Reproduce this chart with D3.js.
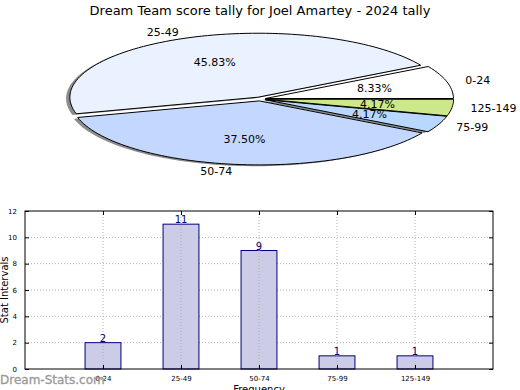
<!DOCTYPE html>
<html><head><meta charset="utf-8">
<script src="https://cdn.jsdelivr.net/npm/d3@7"></script>
<style>body{margin:0;background:#fff}svg{display:block}text{font-family:"DejaVu Sans",sans-serif}</style>
</head><body>
<script>
const title = "Dream Team score tally for Joel Amartey - 2024 tally";
const categories = ["0-24", "25-49", "50-74", "75-99", "125-149"];
const counts = [2, 11, 9, 1, 1];
const yTicks = [0, 2, 4, 6, 8, 10, 12];
const sliceColors = ["#ffffff", "#eaf1ff", "#c4d8ff", "#b8d8ff", "#cde88a"];

const W = 520, H = 390;
const svg = d3.select("body").append("svg").attr("width", W).attr("height", H);

svg.append("text").attr("x", 260).attr("y", 15).attr("text-anchor", "middle")
  .attr("font-size", 13).attr("fill", "#000").text(title);

// ---------- Pie (matplotlib-like, elliptical) ----------
const cx = 260, cy = 99, rx = 188, ry = 64, explode = 0.03;
const total = d3.sum(counts);
let acc = 0;
const slices = counts.map((v, i) => {
  const a0 = acc / total * 360; acc += v; const a1 = acc / total * 360;
  return {i, v, a0, a1, mid: (a0 + a1) / 2};
});
const rad = d => d * Math.PI / 180;
function slicePath(s, ox, oy) {
  const n = Math.max(8, Math.ceil((s.a1 - s.a0) / 2));
  const pts = [[ox, oy]];
  for (let k = 0; k <= n; k++) {
    const a = rad(s.a0 + (s.a1 - s.a0) * k / n);
    pts.push([ox + rx * Math.cos(a), oy - ry * Math.sin(a)]);
  }
  return d3.line()(pts) + "Z";
}
const pieG = svg.append("g");
const shadowG = pieG.append("g");
const sliceG = pieG.append("g");
slices.forEach(s => {
  const m = rad(s.mid);
  s.ox = cx + explode * rx * Math.cos(m);
  s.oy = cy - explode * ry * Math.sin(m);
  shadowG.append("path").attr("d", slicePath(s, s.ox - 0.02 * rx, s.oy + 0.02 * ry))
    .attr("fill", "#000").attr("fill-opacity", 0.45).attr("stroke", "none");
});
slices.forEach(s => {
  sliceG.append("path").attr("d", slicePath(s, s.ox, s.oy))
    .attr("fill", sliceColors[s.i]).attr("stroke", "#000").attr("stroke-width", 1)
    .attr("stroke-linejoin", "round");
});
slices.forEach(s => {
  const m = rad(s.mid);
  const lx = s.ox + 1.1 * rx * Math.cos(m), ly = s.oy - 1.1 * ry * Math.sin(m);
  svg.append("text").attr("x", lx).attr("y", ly).attr("dy", "0.35em")
    .attr("text-anchor", Math.cos(m) < 0 ? "end" : "start")
    .attr("font-size", 11).text(categories[s.i]);
  const px = s.ox + 0.6 * rx * Math.cos(m), py = s.oy - 0.6 * ry * Math.sin(m);
  svg.append("text").attr("x", px).attr("y", py).attr("dy", "0.35em")
    .attr("text-anchor", "middle").attr("font-size", 11)
    .text((s.v / total * 100).toFixed(2) + "%");
});

// ---------- Bar chart ----------
const L = 25, R = 493, T = 211, B = 369;
const x = d3.scaleLinear().domain([0, categories.length + 1]).range([L, R]);
const y = d3.scaleLinear().domain([0, 12]).range([B, T]);
const bw = (x(1) - x(0)) * 0.46;
const g = svg.append("g");

g.selectAll(".hg").data(yTicks.slice(1, -1)).enter().append("line")
  .attr("x1", L).attr("x2", R).attr("y1", d => y(d)).attr("y2", d => y(d))
  .attr("stroke", "#b0b0b0").attr("stroke-dasharray", "1,2").attr("stroke-width", 1);
g.selectAll(".bar").data(counts).enter().append("rect")
  .attr("x", (d, i) => x(i + 1) - bw / 2).attr("width", bw)
  .attr("y", d => y(d)).attr("height", d => B - y(d))
  .attr("fill", "#ccccE6").attr("stroke", "#000080").attr("stroke-width", 1);
g.selectAll(".vg").data(categories).enter().append("line")
  .attr("x1", (d, i) => x(i + 1)).attr("x2", (d, i) => x(i + 1)).attr("y1", T).attr("y2", B)
  .attr("stroke", "#b0b0b0").attr("stroke-dasharray", "1,2").attr("stroke-width", 1);
g.selectAll(".bl").data(counts).enter().append("text")
  .attr("x", (d, i) => x(i + 1)).attr("y", d => y(d) - 1)
  .attr("text-anchor", "middle").attr("font-size", 10).attr("fill", "#000080").text(d => d);

g.append("rect").attr("x", L).attr("y", T).attr("width", R - L).attr("height", B - T)
  .attr("fill", "none").attr("stroke", "#000").attr("stroke-width", 1);

const yAxisL = d3.axisLeft(y).tickValues(yTicks).tickSizeInner(-4).tickSizeOuter(0).tickPadding(8);
const yG = svg.append("g").attr("transform", `translate(${L},0)`).call(yAxisL);
yG.select(".domain").remove();
yG.selectAll("text").attr("font-size", 7).attr("font-family", "DejaVu Sans");
const yAxisR = d3.axisRight(y).tickValues(yTicks).tickSizeInner(-4).tickSizeOuter(0).tickFormat("");
const yR = svg.append("g").attr("transform", `translate(${R},0)`).call(yAxisR);
yR.select(".domain").remove();

const xAxis = d3.axisBottom(x).tickValues(d3.range(1, categories.length + 1))
  .tickFormat(d => categories[d - 1]).tickSizeInner(-4).tickSizeOuter(0).tickPadding(7);
const xG = svg.append("g").attr("transform", `translate(0,${B})`).call(xAxis);
xG.select(".domain").remove();
xG.selectAll("text").attr("font-size", 7).attr("font-family", "DejaVu Sans");
const xAxisT = d3.axisTop(x).tickValues(d3.range(1, categories.length + 1))
  .tickFormat("").tickSizeInner(-4).tickSizeOuter(0);
const xT = svg.append("g").attr("transform", `translate(0,${T})`).call(xAxisT);
xT.select(".domain").remove();

svg.append("text").attr("transform", `translate(8,${(T + B) / 2}) rotate(-90)`)
  .attr("text-anchor", "middle").attr("font-size", 10).text("Stat Intervals");
svg.append("text").attr("x", 259).attr("y", 393).attr("text-anchor", "middle")
  .attr("font-size", 10).text("Frequency");

svg.append("text").attr("x", 0).attr("y", 384).attr("font-size", 12)
  .attr("fill", "#999").attr("stroke", "#999").attr("stroke-width", 0.3).text("Dream-Stats.com");
</script>
</body></html>
